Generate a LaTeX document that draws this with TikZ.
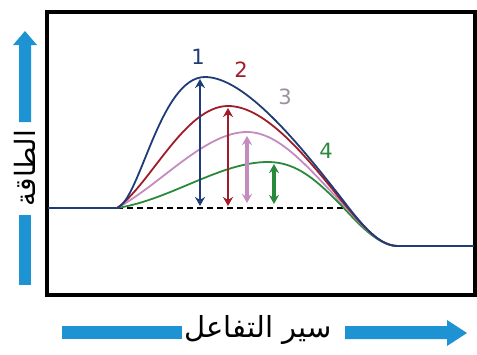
\documentclass[tikz,border=0pt]{standalone}
\usepackage{fontspec}
\setmainfont{DejaVu Sans}
\newfontfamily\arabicfont[Script=Arabic]{DejaVu Sans}
\TeXXeTstate=1
\usetikzlibrary{arrows.meta}
\definecolor{cblue}{HTML}{1F3C78}
\definecolor{cred}{HTML}{A01C28}
\definecolor{cpink}{HTML}{C58BBF}
\definecolor{cgreen}{HTML}{2A8A3C}
\definecolor{clab}{HTML}{9C8FA0}
\definecolor{caxis}{HTML}{1E93D3}
\tikzset{
  curve/.style={line width=1.8pt},
  darrow/.style={line width=2.6pt,{Stealth[length=9pt,width=10pt]}-{Stealth[length=9pt,width=10pt]}},
  numlab/.style={font=\fontsize{21}{23}\selectfont, inner sep=0pt},
  axbar/.style={fill=caxis, draw=none},
}
\begin{document}
\begin{tikzpicture}[x=1pt,y=-1pt]
\useasboundingbox (0,0) rectangle (477,354);
% frame
\draw[line width=3.2pt] (47,12) rectangle (475,295);
% reactant / product levels
\coordinate (r0) at (48,208);
\coordinate (r1) at (117,208);
\coordinate (p0) at (398,246);
\coordinate (p1) at (474,246);
\draw[cblue, line width=2.2pt] (r0) -- (r1);
\draw[cblue, line width=2.2pt] (p0) -- (p1);
% dashed line
\coordinate (d1) at (343,208);
\draw[dashed, dash pattern=on 6pt off 4pt, line width=1.5pt] (r1) -- (d1);
% curves
\draw[cgreen, curve] (r1) .. controls (170,200) and (220,162) .. (268,162)
   .. controls (298,162) and (318,182) .. (342,206) .. controls (362,228) and (380,246) .. (p0);
\draw[cpink, curve] (r1) .. controls (160,185) and (205,132) .. (247,132)
   .. controls (280,132) and (310,170) .. (342,203) .. controls (364,228) and (380,246) .. (p0);
\draw[cred, curve] (r1) .. controls (150,185) and (185,106) .. (228,106)
   .. controls (265,106) and (305,155) .. (342,201) .. controls (364,228) and (380,246) .. (p0);
\draw[cblue, curve] (r1) .. controls (140,200) and (160,77) .. (205,77)
   .. controls (245,77) and (300,145) .. (342,199) .. controls (364,228) and (380,246) .. (p0);
% double arrows
\draw[darrow, cblue] (200,206) -- (200,79);
\draw[darrow, cred] (228,206) -- (228,108);
\draw[darrow, cpink, line width=3.4pt] (247,203) -- (247,136);
\draw[darrow, cgreen, line width=3.4pt] (274,204) -- (274,164);
% labels
\node[numlab, text=cblue] (n1) at (198,57) {1};
\node[numlab, text=cred] (n2) at (241,70) {2};
\node[numlab, text=clab] (n3) at (285,97) {3};
\node[numlab, text=cgreen] (n4) at (326,151) {4};
% vertical axis arrow
\fill[axbar] (19,122) -- (19,45) -- (13,45) -- (25,31) -- (37,45) -- (31,45) -- (31,122) -- cycle;
\fill[axbar] (19,215) rectangle (31,285);
\node[rotate=90, inner sep=0pt, font=\arabicfont\fontsize{28}{30}\selectfont] (ylab) at (25,168) {\beginR الطاقة\endR};
% horizontal axis arrow
\fill[axbar] (62,326) rectangle (182,339);
\fill[axbar] (345,326) -- (447,326) -- (447,320) -- (467,333) -- (447,346) -- (447,339) -- (345,339) -- cycle;
\node[inner sep=0pt, font=\arabicfont\fontsize{29}{31}\selectfont] (xlab) at (258,330) {\beginR سير التفاعل\endR};
\end{tikzpicture}
\end{document}
